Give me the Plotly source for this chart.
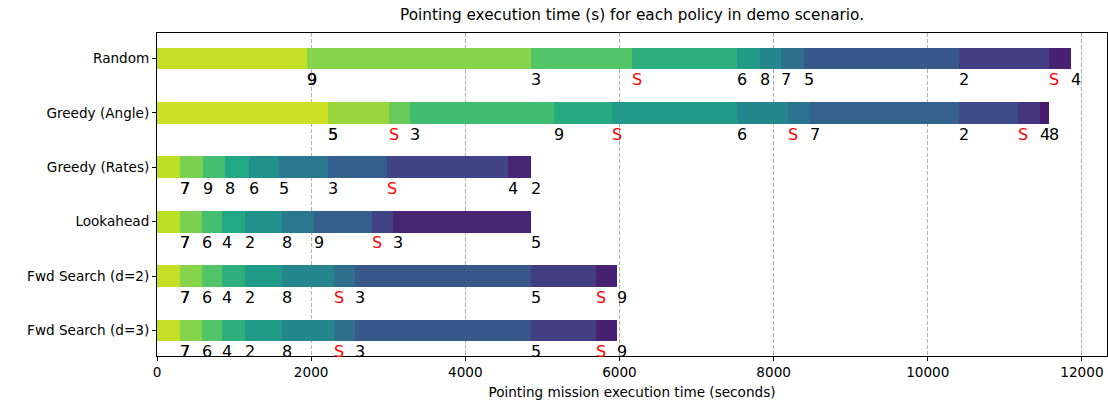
import plotly.graph_objects as go
from plotly.colors import sample_colorscale

# Policies, top to bottom
policies = ["Random", "Greedy (Angle)", "Greedy (Rates)", "Lookahead",
            "Fwd Search (d=2)", "Fwd Search (d=3)"]

# Duration (s) of each pointing step, per policy
durations = [
    [1942, 2906, 1314, 1363, 298, 272, 299, 2011, 1167, 282],
    [2215, 795, 272, 1869, 752, 1622, 662, 285, 1933, 765, 286, 116],
    [298, 299, 285, 312, 389, 635, 766, 1570, 298],
    [298, 286, 259, 299, 480, 415, 752, 273, 1790],
    [298, 286, 259, 299, 480, 674, 273, 2283, 843, 273],
    [298, 286, 259, 299, 480, 674, 273, 2283, 843, 273],
]

# Target reached at the end of each step ("S" = slew/standby step)
targets = [
    ["9", "3", "S", "6", "8", "7", "5", "2", "S", "4"],
    ["5", "S", "3", "9", "S", "6", "S", "7", "2", "S", "4", "8"],
    ["7", "9", "8", "6", "5", "3", "S", "4", "2"],
    ["7", "6", "4", "2", "8", "9", "S", "3", "5"],
    ["7", "6", "4", "2", "8", "S", "3", "5", "S", "9"],
    ["7", "6", "4", "2", "8", "S", "3", "5", "S", "9"],
]

x_ticks = [0, 2000, 4000, 6000, 8000, 10000, 12000]

# matplotlib-like viridis stops
viridis = [
    [0.0, "#440154"], [0.1, "#482475"], [0.2, "#414487"], [0.3, "#355f8d"],
    [0.4, "#2a788e"], [0.5, "#21918c"], [0.6, "#22a884"], [0.7, "#44bf70"],
    [0.8, "#7ad151"], [0.9, "#bddf26"], [1.0, "#fde725"],
]

FONT = "DejaVu Sans"
fig = go.Figure()
annotations = []

for row, (durs, labs) in enumerate(zip(durations, targets)):
    n = len(durs)
    starts, ends = [], []
    t = 0
    for d in durs:
        starts.append(t)
        t += d
        ends.append(t)
    colors = sample_colorscale(viridis, [1 - (i + 1) / (n + 1) for i in range(n)])
    fig.add_trace(go.Bar(
        y=[row] * n, x=durs, base=starts, orientation="h", width=0.4,
        marker=dict(color=colors, line=dict(width=0)),
        showlegend=False, hoverinfo="skip",
    ))
    for i, (xe, lab) in enumerate(zip(ends, labs)):
        # the first step label is drawn twice (start and end of the first step coincide)
        copies = 2 if i == 0 else 1
        for _ in range(copies):
            annotations.append(dict(
                x=xe, y=row + 0.39, xref="x", yref="y", text=lab,
                showarrow=False, xanchor="left", yanchor="middle",
                xshift=-2,
                font=dict(family=FONT, size=16,
                          color="#ff0000" if lab == "S" else "#000000"),
            ))

fig.update_layout(
    width=1108, height=403,
    margin=dict(l=157, r=1, t=33, b=47),
    paper_bgcolor="white", plot_bgcolor="white",
    barmode="overlay", bargap=0,
    font=dict(family=FONT, size=13.6, color="black"),
    title=dict(text="Pointing execution time (s) for each policy in demo scenario.",
               x=0.5, xref="paper", y=1 - 15 / 403, yref="container",
               xanchor="center", yanchor="middle",
               font=dict(family=FONT, size=15.3, color="black")),
    annotations=annotations,
)

fig.update_xaxes(
    range=[0, 12325], tickvals=x_ticks, ticktext=[str(v) for v in x_ticks],
    ticks="outside", ticklen=4, tickcolor="black", tickwidth=1,
    showline=True, linecolor="black", linewidth=1, mirror=True,
    showgrid=True, gridcolor="#b0b0b0", gridwidth=1, griddash="4px,2px",
    zeroline=False, tickfont=dict(family=FONT, size=13.6),
    title=dict(text="Pointing mission execution time (seconds)",
               font=dict(family=FONT, size=13.6), standoff=8),
)
fig.update_yaxes(
    range=[5.47, -0.47], tickvals=list(range(len(policies))), ticktext=policies,
    ticks="outside", ticklen=4, tickcolor="black", tickwidth=1,
    showline=True, linecolor="black", linewidth=1, mirror=True,
    showgrid=False, zeroline=False, tickfont=dict(family=FONT, size=13.6),
)

fig.write_html("out.html")
